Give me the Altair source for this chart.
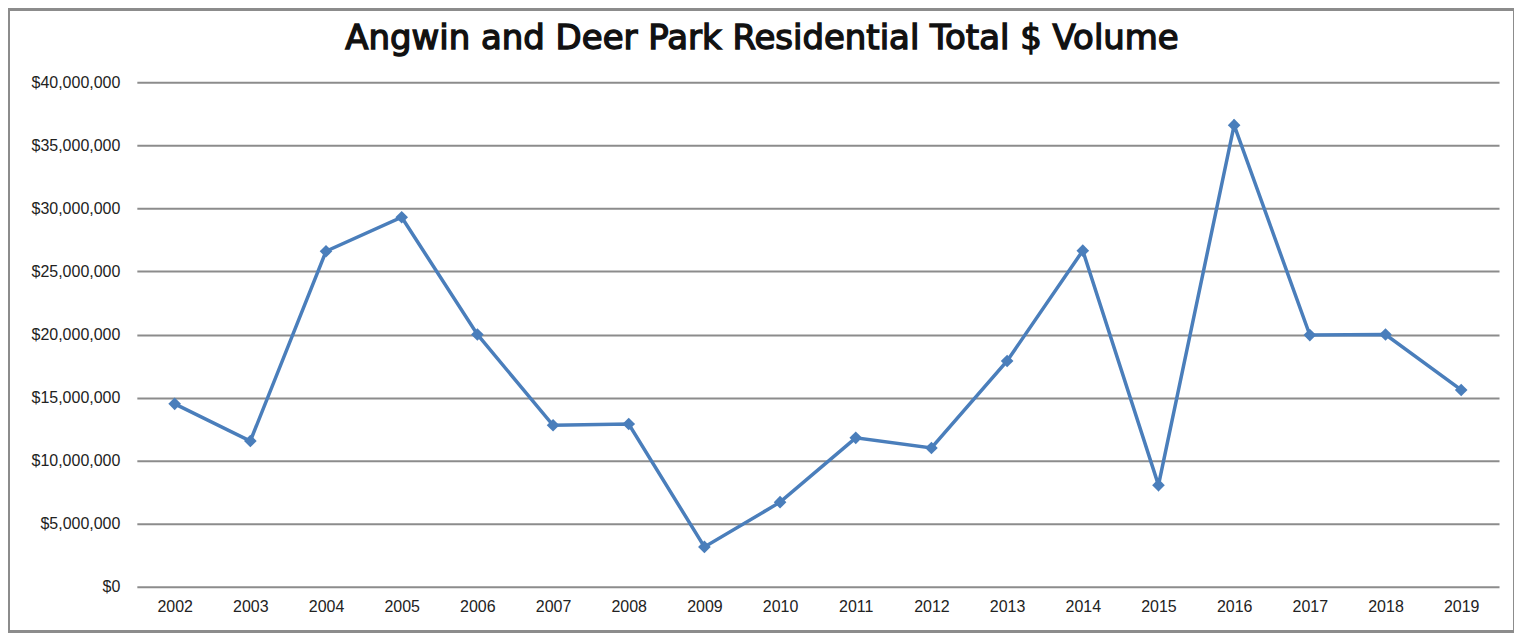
import altair as alt
import pandas as pd

years = ["2002", "2003", "2004", "2005", "2006", "2007", "2008", "2009", "2010",
         "2011", "2012", "2013", "2014", "2015", "2016", "2017", "2018", "2019"]
volume = [14500000, 11550000, 26600000, 29300000, 20000000, 12800000, 12900000,
          3150000, 6700000, 11800000, 11000000, 17900000, 26650000, 8050000,
          36600000, 19950000, 20000000, 15600000]
title_text = "Angwin and Deer Park Residential Total $ Volume"

df = pd.DataFrame({"Year": years, "Volume": volume})

LINE = "#4a7ebb"

x = alt.X("Year:N", sort=years, title=None,
          scale=alt.Scale(type="point", padding=0.5),
          axis=alt.Axis(labelAngle=0, labelFontSize=16, labelFont="Liberation Sans",
                        labelColor="#222", labelPadding=12, domain=False, ticks=False,
                        grid=False))
y = alt.Y("Volume:Q", title=None,
          scale=alt.Scale(domain=[0, 40000000]),
          axis=alt.Axis(values=list(range(0, 40000001, 5000000)), format="$,.0f",
                        labelFontSize=16, labelFont="Liberation Sans", labelColor="#222",
                        labelPadding=17, domain=False, ticks=False,
                        grid=True, gridColor="#8c8c8c", gridWidth=2))

line = alt.Chart(df).mark_line(color=LINE, strokeWidth=3.5).encode(x=x, y=y)
pts = alt.Chart(df).mark_point(shape="diamond", filled=True, color=LINE,
                               size=160, opacity=1).encode(x=x, y=y)

frame = alt.Chart(df).mark_rect(fill=None, stroke="#8c8c8c", strokeWidth=2, clip=False).encode(
    x=alt.value(-128), x2=alt.value(1379), y=alt.value(-73), y2=alt.value(550))

title = alt.Chart(pd.DataFrame({"t": [title_text]})).mark_text(
    font="DejaVu Sans", fontSize=34, fontWeight="normal", color="#111",
    stroke="#111", strokeWidth=1.4,
    align="center", baseline="middle", clip=False).encode(
    text="t:N", x=alt.value(626), y=alt.value(-43))

chart = alt.layer(frame, line, pts, title).properties(
    width=1364, height=505,
    autosize=alt.AutoSizeParams(type="none"),
    padding={"left": 129, "top": 74, "right": 15, "bottom": 46},
).configure_view(stroke=None)

chart.save("out.html", embed_options={"renderer": "svg", "actions": False})
